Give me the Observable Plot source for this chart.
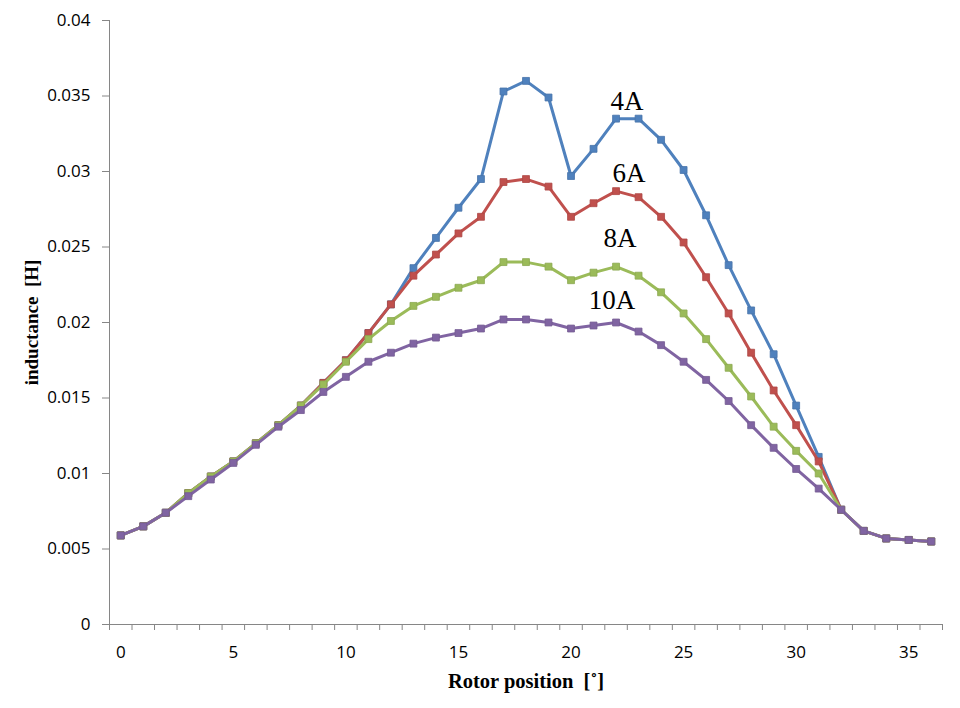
<!DOCTYPE html>
<html>
<head>
<meta charset="utf-8">
<script src="https://cdn.jsdelivr.net/npm/d3@7"></script>
<script src="https://cdn.jsdelivr.net/npm/@observablehq/plot@0.6"></script>
<style>
  body { margin: 0; background: #fff; }
  #chart { width: 960px; height: 708px; }
</style>
</head>
<body>
<div id="chart"></div>
<script>
const positions = d3.range(0, 37);
const seriesNames = ["4A", "6A", "8A", "10A"];
const colors = ["#4F81BD", "#C0504D", "#9BBB59", "#8064A2"];

const L4A = [0.0059, 0.0065, 0.0074, 0.0087, 0.0098, 0.0108, 0.0120, 0.0132, 0.0145, 0.0160,
  0.0175, 0.0193, 0.0212, 0.0236, 0.0256, 0.0276, 0.0295, 0.0353, 0.0360, 0.0349,
  0.0297, 0.0315, 0.0335, 0.0335, 0.0321, 0.0301, 0.0271, 0.0238, 0.0208, 0.0179,
  0.0145, 0.0111, 0.0076, 0.0062, 0.0057, 0.0056, 0.0055];
const L6A = [0.0059, 0.0065, 0.0074, 0.0087, 0.0098, 0.0108, 0.0120, 0.0132, 0.0145, 0.0160,
  0.0175, 0.0193, 0.0212, 0.0231, 0.0245, 0.0259, 0.0270, 0.0293, 0.0295, 0.0290,
  0.0270, 0.0279, 0.0287, 0.0283, 0.0270, 0.0253, 0.0230, 0.0206, 0.0180, 0.0155,
  0.0132, 0.0108, 0.0076, 0.0062, 0.0057, 0.0056, 0.0055];
const L8A = [0.0059, 0.0065, 0.0074, 0.0087, 0.0098, 0.0108, 0.0120, 0.0132, 0.0145, 0.0159,
  0.0174, 0.0189, 0.0201, 0.0211, 0.0217, 0.0223, 0.0228, 0.0240, 0.0240, 0.0237,
  0.0228, 0.0233, 0.0237, 0.0231, 0.0220, 0.0206, 0.0189, 0.0170, 0.0151, 0.0131,
  0.0115, 0.0100, 0.0076, 0.0062, 0.0057, 0.0056, 0.0055];
const L10A = [0.0059, 0.0065, 0.0074, 0.0085, 0.0096, 0.0107, 0.0119, 0.0131, 0.0142, 0.0154,
  0.0164, 0.0174, 0.0180, 0.0186, 0.0190, 0.0193, 0.0196, 0.0202, 0.0202, 0.0200,
  0.0196, 0.0198, 0.0200, 0.0194, 0.0185, 0.0174, 0.0162, 0.0148, 0.0132, 0.0117,
  0.0103, 0.0090, 0.0076, 0.0062, 0.0057, 0.0056, 0.0055];

const yTicks = [0, 0.005, 0.01, 0.015, 0.02, 0.025, 0.03, 0.035, 0.04];
const xTickLabels = [0, 5, 10, 15, 20, 25, 30, 35];

const seriesValues = [L4A, L6A, L8A, L10A];
const data = seriesNames.flatMap((s, k) =>
  positions.map((p, i) => ({series: s, x: p, y: seriesValues[k][i]})));

// label anchor: series point at position 22, with offsets (style)
const labelAt = 22;
const labelOffsets = {"4A": [11, -17], "6A": [13, -18], "8A": [4, -28], "10A": [-4, -22]};

const gray = "#868686";
const serif = "'Liberation Serif', 'Times New Roman', serif";

const marks = [
  Plot.axisY({ticks: yTicks, tickSize: 7, tickPadding: 12, stroke: gray,
    tickFormat: d => d === 0 ? "0" : String(+d.toFixed(3)), fontSize: 17, fill: "#000", label: null}),
  Plot.axisX({ticks: d3.range(-0.5, 37, 1), tickSize: 6, tickFormat: () => "", stroke: gray, label: null}),
  Plot.axisX({ticks: xTickLabels, tickSize: 0, tickPadding: 21, fontSize: 17, fill: "#000", label: null}),
  Plot.ruleY([0], {stroke: gray, strokeWidth: 1}),
  Plot.ruleX([-0.5], {stroke: gray, strokeWidth: 1}),
];

seriesNames.forEach((s, k) => {
  const d = data.filter(r => r.series === s);
  marks.push(Plot.line(d, {x: "x", y: "y", stroke: colors[k], strokeWidth: 3}));
  marks.push(Plot.dot(d, {x: "x", y: "y", symbol: "square", r: 3.9, fill: colors[k], stroke: d3.color(colors[k]).darker(0.3).formatHex(), strokeWidth: 0.8}));
});

seriesNames.forEach((s, k) => {
  const [dx, dy] = labelOffsets[s];
  marks.push(Plot.text([{x: positions[labelAt], y: seriesValues[k][labelAt], t: s}], {
    x: "x", y: "y", text: "t", dx, dy, fontSize: 27, fontFamily: serif, fill: "#000",
    textAnchor: "middle", lineAnchor: "middle"
  }));
});

marks.push(Plot.text(["inductance  [H]"], {
  frameAnchor: "left", dx: -78, rotate: -90, textAnchor: "middle", lineAnchor: "middle",
  fontSize: 19, fontWeight: "bold", fontFamily: serif, fill: "#000"
}));
marks.push(Plot.text(["Rotor position  [˚]"], {
  frameAnchor: "bottom", dy: 57, textAnchor: "middle", lineAnchor: "middle",
  fontSize: 20.5, fontWeight: "bold", fontFamily: serif, fill: "#000"
}));

const chart = Plot.plot({
  width: 960,
  height: 708,
  marginTop: 20,
  marginBottom: 84,
  marginLeft: 109,
  marginRight: 18,
  style: {fontFamily: "'Open Sans', sans-serif", background: "#fff", overflow: "visible"},
  x: {domain: [-0.5, 36.5]},
  y: {domain: [0, 0.04]},
  marks
});
document.getElementById("chart").appendChild(chart);
</script>
</body>
</html>
